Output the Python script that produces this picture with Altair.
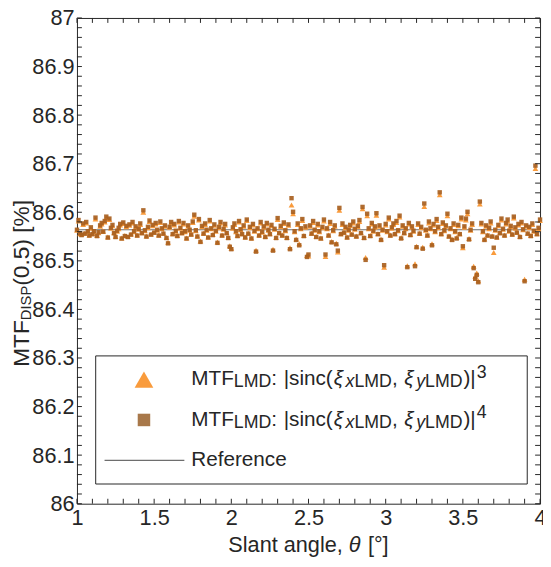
import altair as alt
import pandas as pd

# ---------------- data ----------------
angle = [round(1 + i * 0.01, 2) for i in range(301)]

mtf_cubed = [
    86.563, 86.582, 86.556, 86.554, 86.575, 86.557, 86.578, 86.560, 86.553, 86.567,
    86.556, 86.560, 86.586, 86.552, 86.558, 86.571, 86.576, 86.561, 86.580, 86.588,
    86.549, 86.585, 86.567, 86.572, 86.558, 86.550, 86.561, 86.566, 86.574, 86.547,
    86.577, 86.552, 86.570, 86.550, 86.573, 86.555, 86.578, 86.560, 86.569, 86.553,
    86.565, 86.575, 86.558, 86.600, 86.562, 86.551, 86.568, 86.581, 86.555, 86.572,
    86.559, 86.576, 86.563, 86.553, 86.579, 86.566, 86.557, 86.571, 86.548, 86.538,
    86.569, 86.578, 86.556, 86.574, 86.561, 86.552, 86.580, 86.567, 86.558, 86.576,
    86.560, 86.547, 86.571, 86.563, 86.555, 86.579, 86.592, 86.562, 86.551, 86.584,
    86.541, 86.570, 86.557, 86.575, 86.563, 86.549, 86.582, 86.566, 86.554, 86.573,
    86.561, 86.539, 86.568, 86.578, 86.553, 86.565, 86.574, 86.558, 86.548, 86.531,
    86.526, 86.567, 86.575, 86.560, 86.552, 86.580, 86.564, 86.556, 86.571, 86.549,
    86.583, 86.557, 86.568, 86.547, 86.574, 86.561, 86.522, 86.566, 86.553, 86.578,
    86.559, 86.569, 86.550, 86.576, 86.563, 86.556, 86.572, 86.524, 86.565, 86.548,
    86.585, 86.558, 86.570, 86.553, 86.577, 86.562, 86.548, 86.573, 86.527, 86.615,
    86.597, 86.560, 86.545, 86.575, 86.535, 86.566, 86.583, 86.552, 86.569, 86.511,
    86.510, 86.571, 86.557, 86.579, 86.563, 86.550, 86.574, 86.560, 86.547, 86.568,
    86.582, 86.509, 86.566, 86.553, 86.577, 86.540, 86.562, 86.571, 86.536, 86.518,
    86.604, 86.556, 86.575, 86.559, 86.568, 86.549, 86.563, 86.572, 86.555, 86.578,
    86.565, 86.551, 86.570, 86.581, 86.558, 86.607, 86.548, 86.507, 86.593, 86.566,
    86.552, 86.576, 86.561, 86.569, 86.594, 86.556, 86.571, 86.545, 86.563, 86.487,
    86.574, 86.560, 86.586, 86.553, 86.567, 86.575, 86.556, 86.579, 86.562, 86.590,
    86.548, 86.571, 86.558, 86.566, 86.490, 86.576, 86.554, 86.569, 86.561, 86.494,
    86.530, 86.575, 86.557, 86.568, 86.528, 86.612, 86.563, 86.553, 86.578, 86.566,
    86.535, 86.574, 86.560, 86.583, 86.568, 86.636, 86.556, 86.577, 86.562, 86.571,
    86.593, 86.551, 86.566, 86.545, 86.575, 86.560, 86.548, 86.572, 86.556, 86.586,
    86.527, 86.569, 86.584, 86.597, 86.546, 86.563, 86.575, 86.489, 86.468, 86.475,
    86.459, 86.617, 86.576, 86.560, 86.545, 86.571, 86.553, 86.566, 86.578, 86.551,
    86.517, 86.563, 86.549, 86.572, 86.558, 86.584, 86.565, 86.553, 86.576, 86.582,
    86.561, 86.570, 86.555, 86.588, 86.567, 86.559, 86.574, 86.550, 86.578, 86.564,
    86.462, 86.571, 86.557, 86.568, 86.552, 86.575, 86.561, 86.690, 86.556, 86.566,
    86.583,
]

mtf_fourth = [
    86.564, 86.584, 86.557, 86.553, 86.577, 86.556, 86.580, 86.561, 86.552, 86.569,
    86.555, 86.561, 86.589, 86.551, 86.559, 86.573, 86.578, 86.560, 86.582, 86.591,
    86.548, 86.587, 86.568, 86.574, 86.557, 86.549, 86.562, 86.568, 86.576, 86.546,
    86.579, 86.551, 86.572, 86.549, 86.575, 86.554, 86.580, 86.561, 86.571, 86.552,
    86.566, 86.577, 86.557, 86.604, 86.563, 86.550, 86.570, 86.583, 86.554, 86.574,
    86.558, 86.578, 86.564, 86.552, 86.581, 86.567, 86.556, 86.573, 86.547, 86.536,
    86.570, 86.580, 86.555, 86.576, 86.562, 86.551, 86.582, 86.568, 86.557, 86.578,
    86.561, 86.546, 86.573, 86.564, 86.554, 86.581, 86.595, 86.563, 86.550, 86.586,
    86.539, 86.572, 86.556, 86.577, 86.564, 86.548, 86.584, 86.567, 86.553, 86.575,
    86.562, 86.537, 86.570, 86.580, 86.552, 86.566, 86.576, 86.557, 86.547, 86.529,
    86.524, 86.569, 86.577, 86.561, 86.551, 86.582, 86.565, 86.555, 86.573, 86.548,
    86.585, 86.556, 86.570, 86.546, 86.576, 86.562, 86.519, 86.567, 86.552, 86.580,
    86.560, 86.571, 86.549, 86.578, 86.564, 86.555, 86.574, 86.521, 86.566, 86.547,
    86.588, 86.557, 86.572, 86.552, 86.579, 86.563, 86.547, 86.575, 86.524, 86.629,
    86.601, 86.561, 86.543, 86.577, 86.532, 86.567, 86.586, 86.551, 86.571, 86.508,
    86.513, 86.573, 86.556, 86.582, 86.564, 86.549, 86.576, 86.561, 86.546, 86.570,
    86.585, 86.513, 86.567, 86.552, 86.580, 86.538, 86.563, 86.573, 86.534, 86.521,
    86.609, 86.555, 86.577, 86.558, 86.570, 86.548, 86.564, 86.574, 86.554, 86.581,
    86.566, 86.550, 86.572, 86.584, 86.557, 86.611, 86.547, 86.502, 86.597, 86.567,
    86.551, 86.578, 86.562, 86.571, 86.598, 86.555, 86.573, 86.543, 86.564, 86.491,
    86.576, 86.561, 86.589, 86.552, 86.569, 86.577, 86.555, 86.582, 86.563, 86.593,
    86.546, 86.573, 86.557, 86.567, 86.487, 86.578, 86.553, 86.571, 86.562, 86.489,
    86.528, 86.577, 86.556, 86.570, 86.525, 86.618, 86.564, 86.552, 86.581, 86.567,
    86.532, 86.576, 86.561, 86.586, 86.570, 86.641, 86.555, 86.579, 86.563, 86.573,
    86.597, 86.550, 86.567, 86.543, 86.577, 86.561, 86.546, 86.574, 86.555, 86.589,
    86.530, 86.571, 86.587, 86.601, 86.544, 86.564, 86.577, 86.485, 86.463, 86.471,
    86.456, 86.622, 86.578, 86.561, 86.543, 86.573, 86.552, 86.568, 86.581, 86.550,
    86.527, 86.564, 86.548, 86.574, 86.557, 86.587, 86.566, 86.552, 86.578, 86.585,
    86.562, 86.572, 86.554, 86.591, 86.569, 86.558, 86.576, 86.549, 86.580, 86.565,
    86.458, 86.573, 86.556, 86.570, 86.551, 86.577, 86.562, 86.696, 86.555, 86.568,
    86.585,
]

reference_value = 86.564
x_tick_values = [1, 1.5, 2, 2.5, 3, 3.5, 4]
y_tick_values = [86, 86.1, 86.2, 86.3, 86.4, 86.5, 86.6, 86.7, 86.8, 86.9, 87]
y_minor_ticks = [round(86 + 0.02 * i, 2) for i in range(51)]
x_minor_ticks = [round(1 + 0.1 * i, 1) for i in range(31)]

# ---------------- style ----------------
FONT = "Liberation Sans"
INK = "#262626"
TRI_COLOR = "#F99B3C"
SQ_COLOR = "#A8601F"
SQ_LEG_COLOR = "#A8784A"
W, H = 470, 493

xs = alt.Scale(domain=[1, 4], nice=False, zero=False)
ys = alt.Scale(domain=[86, 87], nice=False, zero=False)
xaxis = alt.Axis(values=x_tick_values, format=".1~f", labelFontSize=22, labelFont=FONT,
                 labelColor=INK, ticks=False, domain=False, grid=False, title=None,
                 labelPadding=4, labelFlush=False)
yaxis = alt.Axis(values=y_tick_values, format=".1~f", labelFontSize=22, labelFont=FONT,
                 labelColor=INK, ticks=False, domain=False, grid=False, title=None,
                 labelPadding=3, labelFlush=False)

# Arial / Liberation Sans advance widths (1/1000 em)
AW = {" ": 278, "(": 333, ")": 333, ",": 278, ".": 278, ":": 278, "[": 278, "]": 278,
      "|": 260, "%": 889, "°": 400, "θ": 556, "ξ": 500}
for ch in "0123456789":
    AW[ch] = 556
AW.update({"A": 667, "D": 722, "F": 611, "I": 278, "L": 556, "M": 833, "P": 667,
           "R": 722, "S": 667, "T": 611})
AW.update({"a": 556, "c": 500, "e": 556, "f": 278, "g": 556, "i": 222, "l": 222,
           "n": 556, "r": 333, "s": 500, "t": 278, "x": 500, "y": 500})


def text_width(s, size):
    return sum(AW.get(c, 556) for c in s) * size / 1000.0


one = pd.DataFrame({"k": [0]})


def text_layer(txt, x, y, size, italic=False, angle=0):
    kw = dict(align="left", baseline="alphabetic", fontSize=size, font=FONT, color=INK,
              fontStyle="italic" if italic else "normal")
    if angle:
        kw["angle"] = angle
    return alt.Chart(one).mark_text(**kw).encode(
        x=alt.value(x), y=alt.value(y), text=alt.value(txt))


def rich_h(segments, x0, y0):
    # segments: (text, size, dy, italic, extra gap after)
    layers = []
    x = x0
    for txt, size, dy, ital, extra in segments:
        layers.append(text_layer(txt, x, y0 + dy, size, ital))
        x += text_width(txt, size) + extra
    return layers


df = pd.DataFrame({"angle": angle, "m3": mtf_cubed, "m4": mtf_fourth})

ref = alt.Chart(pd.DataFrame({"r": [reference_value]})).mark_rule(
    color="#6e6e6e", strokeWidth=1.2).encode(y=alt.Y("r:Q", scale=ys, axis=yaxis))

tri = alt.Chart(df).mark_point(shape="triangle-up", filled=True, size=34, color=TRI_COLOR,
                               opacity=1).encode(
    x=alt.X("angle:Q", scale=xs, axis=xaxis), y=alt.Y("m3:Q", scale=ys, axis=yaxis))
sq = alt.Chart(df).mark_square(size=20, color=SQ_COLOR, opacity=0.92).encode(
    x=alt.X("angle:Q", scale=xs, axis=xaxis), y=alt.Y("m4:Q", scale=ys, axis=yaxis))

ytk = pd.DataFrame({"v": y_minor_ticks})
xtk = pd.DataFrame({"v": x_minor_ticks})
tick_l = alt.Chart(ytk).mark_rule(color=INK, strokeWidth=1).encode(
    y=alt.Y("v:Q", scale=ys, axis=yaxis), x=alt.value(0), x2=alt.value(5))
tick_r = alt.Chart(ytk).mark_rule(color=INK, strokeWidth=1).encode(
    y=alt.Y("v:Q", scale=ys, axis=yaxis), x=alt.value(W), x2=alt.value(W - 5))
tick_b = alt.Chart(xtk).mark_rule(color=INK, strokeWidth=1).encode(
    x=alt.X("v:Q", scale=xs, axis=xaxis), y=alt.value(H), y2=alt.value(H - 5))
tick_t = alt.Chart(xtk).mark_rule(color=INK, strokeWidth=1).encode(
    x=alt.X("v:Q", scale=xs, axis=xaxis), y=alt.value(0), y2=alt.value(5))

# legend
leg_box = alt.Chart(one).mark_rect(fill="white", stroke=INK, strokeWidth=1).encode(
    x=alt.value(19), x2=alt.value(457), y=alt.value(343), y2=alt.value(473))
leg_tri = alt.Chart(one).mark_point(shape="triangle-up", filled=True, size=361,
                                    color=TRI_COLOR, opacity=1).encode(
    x=alt.value(68), y=alt.value(367))
leg_sq = alt.Chart(one).mark_square(size=161, color=SQ_LEG_COLOR, opacity=1).encode(
    x=alt.value(68), y=alt.value(408))
leg_line = alt.Chart(one).mark_rule(color="#6e6e6e", strokeWidth=1.2).encode(
    x=alt.value(28), x2=alt.value(109), y=alt.value(449))

SP21 = text_width(" ", 21)
SP22 = text_width(" ", 22)
SUB = 18


def sinc_label(power, y0):
    return rich_h([
        ("MTF", 21, 0, False, 0), ("LMD", SUB, 2, False, 0), (":", 21, 0, False, SP21 + 1),
        ("|sinc(", 21, 0, False, 1),
        ("ξ", 21, 0, True, 1.5), ("x", SUB, 2, True, 0), ("LMD", SUB, 2, False, 0),
        (",", 21, 0, False, SP21 + 1),
        ("ξ", 21, 0, True, 1.5), ("y", SUB, 2, True, 0), ("LMD", SUB, 2, False, 1),
        (")|", 21, 0, False, 1), (power, SUB, -8, False, 0)], 116, y0)


leg_texts = sinc_label("3", 373) + sinc_label("4", 414.5) + \
    rich_h([("Reference", 21, 0, False, 0)], 116, 455)

# axis titles
xt_segs = [("Slant angle,", 22, 0, False, SP22), ("θ", 22, 0, True, SP22 + 1),
           ("[°]", 22, 0, False, 0)]
xt_w = sum(text_width(s[0], s[1]) + s[4] for s in xt_segs)
x_title = rich_h(xt_segs, W / 2 - xt_w / 2, 542)

YT_X, YT_Y = -49, 354
y1 = YT_Y - text_width("MTF", 23)
y2 = y1 - text_width("DISP", 15)
y3 = y2 - text_width("(0.5) ", 23)
y_title = [
    text_layer("MTF", YT_X, YT_Y, 23, angle=270),
    text_layer("DISP", YT_X + 2, y1, 15, angle=270),
    text_layer("(0.5)", YT_X, y2, 23, angle=270),
    text_layer("[%]", YT_X, y3, 23, angle=270),
]

chart = alt.layer(
    ref, tri, sq, tick_l, tick_r, tick_b, tick_t,
    leg_box, leg_tri, leg_sq, leg_line, *leg_texts, *x_title, *y_title
).properties(
    width=W, height=H,
    padding={"left": 70, "top": 6, "right": 3, "bottom": 52},
    autosize=alt.AutoSizeParams(type="none"),
    background="white",
).configure_view(stroke=INK, strokeWidth=1)

chart.save("out.html", embed_options={"renderer": "svg", "actions": False})
